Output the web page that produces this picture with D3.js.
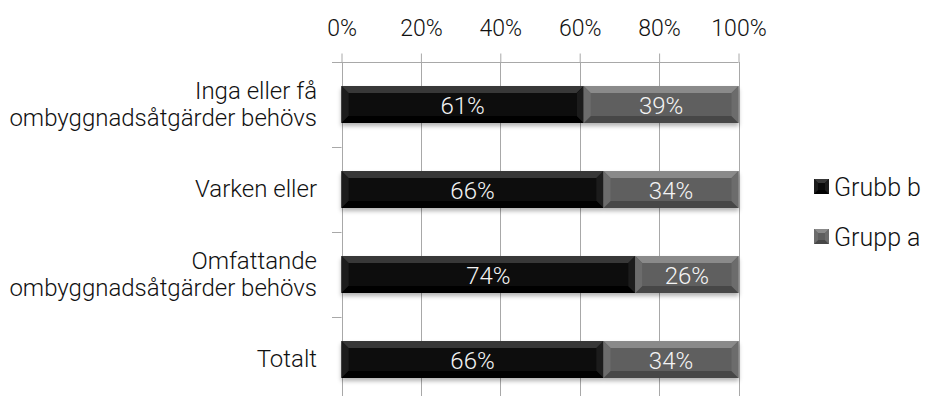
<!DOCTYPE html>
<html>
<head>
<meta charset="utf-8">
<script src="https://cdn.jsdelivr.net/npm/d3@7"></script>
<style>
  html, body { margin: 0; padding: 0; background: #fff; }
  svg { display: block; }
  text { font-family: Roboto, "DejaVu Sans", sans-serif; font-weight: 300; }
</style>
</head>
<body>
<svg id="chart" width="931" height="396"></svg>
<script>
// Categories (top to bottom), each label split into lines
const categories = [
  ["Inga eller få", "ombyggnadsåtgärder behövs"],
  ["Varken eller"],
  ["Omfattande", "ombyggnadsåtgärder behövs"],
  ["Totalt"]
];
const seriesNames = ["Grubb b", "Grupp a"];
const grubbB = [61, 66, 74, 66];
const gruppA = [39, 34, 26, 34];
const tickValues = [0, 20, 40, 60, 80, 100];

const svg = d3.select("#chart");
const plotLeft = 341.5, plotRight = 738.5, plotTop = 62, plotBottom = 402;

const x = d3.scaleLinear().domain([0, 100]).range([plotLeft, plotRight]);
const y = d3.scaleBand().domain(d3.range(categories.length)).range([plotTop, plotBottom])
  .paddingInner(0.565).paddingOuter(0.2825);

const colors = [
  { base: "#0b0b0b", top: "#383838", side: "#1c1c1c", bottom: "#000000" },
  { base: "#5e5e5e", top: "#8a8a8a", side: "#6c6c6c", bottom: "#474747" }
];

const defs = svg.append("defs");
const shadow = defs.append("filter").attr("id", "shadow")
  .attr("x", "-5%").attr("y", "-20%").attr("width", "110%").attr("height", "160%");
shadow.append("feDropShadow").attr("dx", 0).attr("dy", 3).attr("stdDeviation", 2)
  .attr("flood-color", "#000").attr("flood-opacity", 0.3);

// gridlines
svg.append("g").selectAll("line").data(tickValues.slice(1)).join("line")
  .attr("x1", d => Math.round(x(d)) + 0.5).attr("x2", d => Math.round(x(d)) + 0.5)
  .attr("y1", plotTop).attr("y2", plotBottom)
  .attr("stroke", "#a8a8a8").attr("stroke-width", 1);

// top axis
const xAxis = d3.axisTop(x).tickValues(tickValues).tickFormat(d => d + "%").tickSize(9).tickPadding(18);
const gx = svg.append("g").attr("transform", `translate(0,${plotTop + 0.5})`).call(xAxis);
gx.select(".domain").attr("stroke", "#a8a8a8").attr("d", `M${plotLeft - 9.5},0H${plotRight}`);
gx.selectAll(".tick line").attr("stroke", "#a8a8a8");
gx.selectAll(".tick text").attr("fill", "#111").style("font-size", "23px")
  .attr("font-family", null).attr("dy", null);
gx.attr("font-family", null).attr("font-size", null);

// left axis line and ticks between categories
svg.append("line").attr("x1", Math.round(plotLeft) + 0.5).attr("x2", Math.round(plotLeft) + 0.5)
  .attr("y1", plotTop).attr("y2", plotBottom).attr("stroke", "#a8a8a8");
const bounds = d3.range(categories.length + 1).map(i => plotTop + i * y.step());
svg.append("g").selectAll("line").data(bounds).join("line")
  .attr("x1", plotLeft - 9.5).attr("x2", plotLeft)
  .attr("y1", d => Math.round(d) + 0.5).attr("y2", d => Math.round(d) + 0.5)
  .attr("stroke", "#a8a8a8");

// category labels
const lineH = 27;
const catG = svg.append("g");
categories.forEach((lines, i) => {
  const cy = y(i) + y.bandwidth() / 2;
  const t = catG.append("text").attr("x", 317).attr("text-anchor", "end")
    .attr("fill", "#111").style("font-size", "24px");
  lines.forEach((ln, j) => {
    t.append("tspan").attr("x", 317)
      .attr("y", cy + 7.5 + (j - (lines.length - 1) / 2) * lineH)
      .text(ln);
  });
});

// beveled segment
function bevelRect(g, x0, y0, w, h, c, b) {
  const seg = g.append("g");
  seg.append("rect").attr("x", x0).attr("y", y0).attr("width", w).attr("height", h).attr("fill", c.base);
  const x1 = x0 + w, y1 = y0 + h;
  const poly = (pts, fill) => seg.append("polygon").attr("points", pts.map(p => p.join(",")).join(" ")).attr("fill", fill);
  poly([[x0, y0], [x1, y0], [x1 - b, y0 + b], [x0 + b, y0 + b]], c.top);
  poly([[x0, y1], [x1, y1], [x1 - b, y1 - b], [x0 + b, y1 - b]], c.bottom);
  poly([[x0, y0], [x0 + b, y0 + b], [x0 + b, y1 - b], [x0, y1]], c.side);
  poly([[x1, y0], [x1 - b, y0 + b], [x1 - b, y1 - b], [x1, y1]], c.side);
  return seg;
}

// bars
const series = [grubbB, gruppA];
const barsG = svg.append("g");
categories.forEach((_, i) => {
  const row = barsG.append("g").attr("filter", "url(#shadow)");
  let acc = 0;
  series.forEach((vals, s) => {
    const v = vals[i];
    const x0 = x(acc), x1 = x(acc + v);
    bevelRect(row, x0, y(i), x1 - x0, y.bandwidth(), colors[s], 7);
    acc += v;
  });
  acc = 0;
  series.forEach((vals, s) => {
    const v = vals[i];
    barsG.append("text")
      .attr("x", (x(acc) + x(acc + v)) / 2)
      .attr("y", y(i) + y.bandwidth() / 2 + 9.5)
      .attr("text-anchor", "middle").attr("fill", "#f4f4f4")
      .style("font-size", "24px")
      .text(v + "%");
    acc += v;
  });
});

// legend
const legend = svg.append("g");
seriesNames.forEach((name, s) => {
  const ly = 179 + s * 50;
  bevelRect(legend, 814, ly, 15, 15, colors[s], 4);
  legend.append("text").attr("x", 834).attr("y", ly + 16.5)
    .attr("fill", "#111").style("font-size", "25px").text(name);
});
</script>
</body>
</html>
